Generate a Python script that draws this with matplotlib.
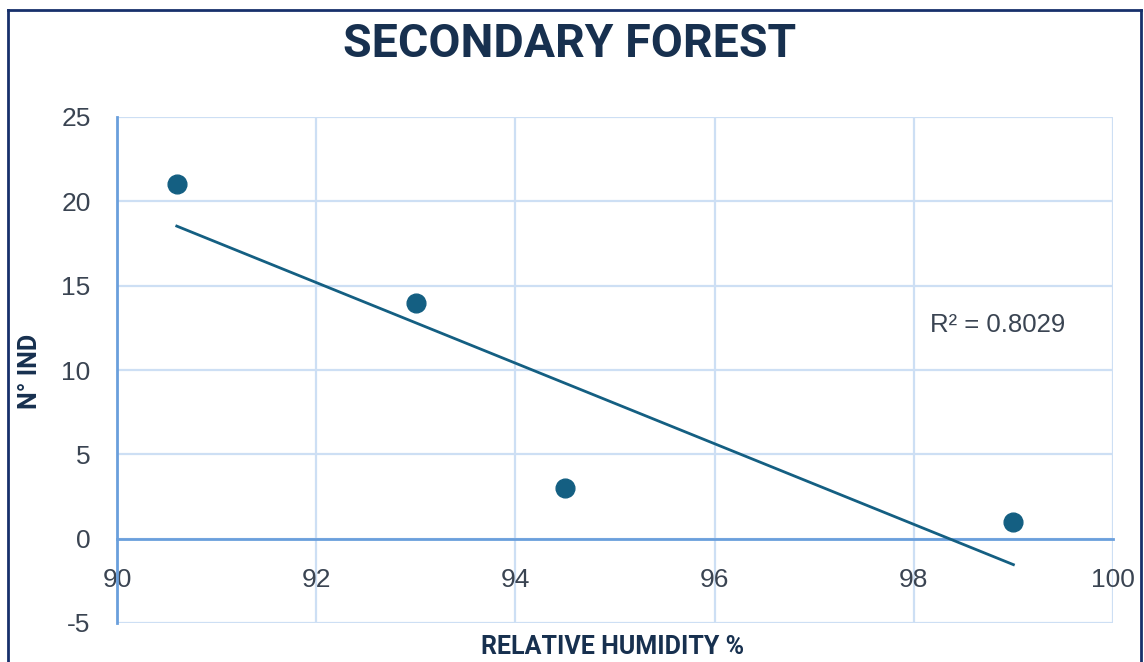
import numpy as np
import matplotlib
matplotlib.use("Agg")
import matplotlib.pyplot as plt
from matplotlib.lines import Line2D

humidity = [90.6, 93.0, 94.5, 99.0]
n_ind = [21, 14, 3, 1]
x_ticks = [90, 92, 94, 96, 98, 100]
y_ticks = [-5, 0, 5, 10, 15, 20, 25]
y_tick_labels = ["-5", "0", "5", "10", "15", "20", "25"]
r2_label = "R² = 0.8029"

W, H = 1144, 662
fig = plt.figure(figsize=(W / 100, H / 100), dpi=100)
ax = fig.add_axes([117 / W, 1 - 623 / H, (1113 - 117) / W, (623 - 117) / H])

grid_c = "#cddff4"
axis_c = "#6a9fdc"
mark_c = "#145f82"
text_c = "#3a4452"
dark_c = "#17304f"

ax.set_xlim(90, 100)
ax.set_ylim(-5, 25)
ax.set_xticks(x_ticks)
ax.set_yticks(y_ticks)
ax.set_yticklabels(y_tick_labels)
ax.grid(True, color=grid_c, linewidth=1.6)
ax.set_axisbelow(True)
for s in ["top", "right"]:
    ax.spines[s].set_visible(False)
ax.spines["left"].set_color(axis_c)
ax.spines["left"].set_linewidth(2)
ax.spines["bottom"].set_position(("data", 0))
ax.spines["bottom"].set_color(axis_c)
ax.spines["bottom"].set_linewidth(2)
ax.tick_params(axis="both", length=0, labelsize=19, labelcolor=text_c)
ax.tick_params(axis="x", pad=21)
ax.tick_params(axis="y", pad=19)
for lab in ax.get_xticklabels() + ax.get_yticklabels():
    lab.set_family("Liberation Sans")

# trendline
xs = np.array(humidity)
ys = np.array(n_ind)
slope, intercept = np.polyfit(xs, ys, 1)
xl = np.array([xs.min(), xs.max()])
ax.plot(xl, slope * xl + intercept, color=mark_c, linewidth=2.0, zorder=3)
ax.plot(humidity, n_ind, "o", color=mark_c, markersize=13.5, zorder=4)

ax.text(0.816, 0.589, r2_label, transform=ax.transAxes, fontsize=18.5,
        color=text_c, family="Liberation Sans", ha="left", va="center")

fig.text(570 / W, 1 - 44 / H, "SECONDARY FOREST", fontsize=33.5, fontweight="bold",
         color=dark_c, family="Roboto", ha="center", va="center")
fig.text(613 / W, 1 - 647 / H, "RELATIVE HUMIDITY %", fontsize=18, fontweight="bold",
         color=dark_c, family="Roboto", ha="center", va="center")
fig.text(30 / W, 1 - 371 / H, "N° IND", fontsize=18, fontweight="bold",
         color=dark_c, family="Roboto", ha="center", va="center", rotation=90)

# outer border
bc = "#17306b"
fig.add_artist(Line2D([8 / W, 8 / W], [0, 1 - 10 / H], transform=fig.transFigure, color=bc, lw=2))
fig.add_artist(Line2D([8 / W, 1141 / W], [1 - 10 / H, 1 - 10 / H], transform=fig.transFigure, color=bc, lw=2))
fig.add_artist(Line2D([1141 / W, 1141 / W], [0, 1 - 10 / H], transform=fig.transFigure, color=bc, lw=2))

fig.savefig("out.png", dpi=100)
